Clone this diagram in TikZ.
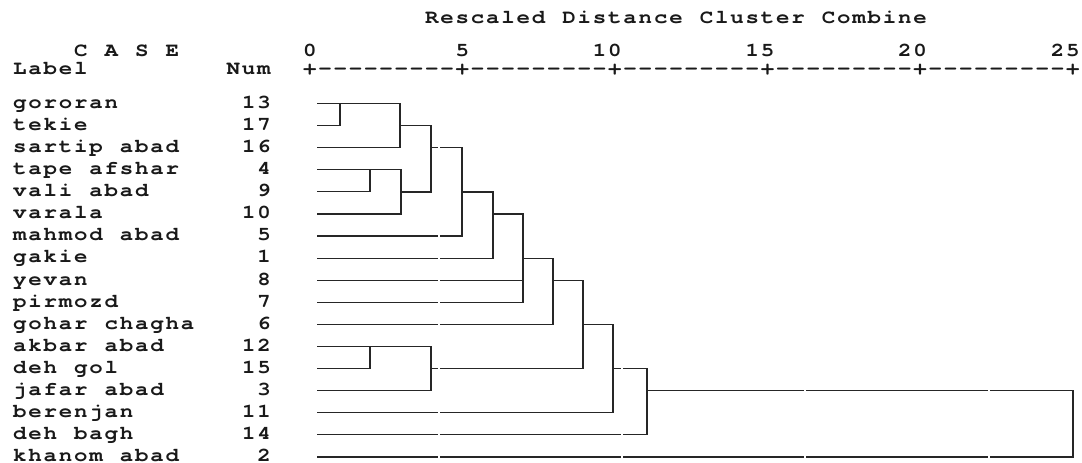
\documentclass[tikz,border=0pt]{standalone}
\usepackage{fontspec}
\newfontfamily\spss[FakeStretch=1.15]{texgyrecursor-bold.otf}
\ExplSyntaxOn
\NewDocumentCommand\mono{m}{\exp_args:Ne \str_map_inline:nn {#1}{\makebox[15.26pt]{##1}}}
\ExplSyntaxOff
\begin{document}
\begin{tikzpicture}[x=1pt,y=-1pt,
  txt/.style={anchor=base west,inner sep=0pt,font=\spss\fontsize{19.5}{19.5}\selectfont,text=black!90},
  link/.style={draw=black!85,line width=1.2pt,line cap=rect},
  gap/.style={draw=white,line width=1.5pt}]
\useasboundingbox (0,0) rectangle (1082,463);
\def\cx#1{12+15.26*#1}
% header
\node[txt] (title) at ({\cx{27}},23.5) {\mono{Rescaled Distance Cluster Combine}};
\node[txt] (case) at ({\cx{4}},56.5) {\mono{C A S E}};
\node[txt] (t0) at ({\cx{19}},56.5) {\mono{0}};
\node[txt] (t5) at ({\cx{29}},56.5) {\mono{5}};
\node[txt] (t10) at ({\cx{38}},56.5) {\mono{10}};
\node[txt] (t15) at ({\cx{48}},56.5) {\mono{15}};
\node[txt] (t20) at ({\cx{58}},56.5) {\mono{20}};
\node[txt] (t25) at ({\cx{68}},56.5) {\mono{25}};
\node[txt] (lab) at ({\cx{0}},74) {\mono{Label}};
\node[txt] (num) at ({\cx{14}},74) {\mono{Num}};
\node[txt] (axis) at ({\cx{19}},74) {\mono{+---------+---------+---------+---------+---------+}};
% rows
\foreach \i/\name/\n/\c in {0/gororan/13/15,1/tekie/17/15,2/sartip abad/16/15,3/tape afshar/4/16,
  4/vali abad/9/16,5/varala/10/15,6/mahmod abad/5/16,7/gakie/1/16,8/yevan/8/16,9/pirmozd/7/16,
  10/gohar chagha/6/16,11/akbar abad/12/15,12/deh gol/15/15,13/jafar abad/3/16,14/berenjan/11/15,
  15/deh bagh/14/15,16/khanom abad/2/16}{
  \pgfmathsetmacro{\ry}{103.5+22.09*\i}
  \node[txt] (name\i) at ({\cx{0}},\ry+4.8) {\mono{\name}};
  \node[txt] (num\i) at ({\cx{\c}},\ry+4.8) {\mono{\n}};
  \coordinate (l\i) at (318,\ry);
}
% merge points (x of merge, y of outgoing row)
\coordinate (m1) at (340,103.5);
\coordinate (m2) at (400,125.6);
\coordinate (m3) at (370,169.8);
\coordinate (m4) at (401,191.9);
\coordinate (m5) at (431,147.7);
\coordinate (m6) at (462,191.9);
\coordinate (m7) at (493,214);
\coordinate (m8) at (523,258.1);
\coordinate (m9) at (553,280.2);
\coordinate (m10) at (370,346.5);
\coordinate (m11) at (431,368.6);
\coordinate (m12) at (583,324.4);
\coordinate (m13) at (613,368.6);
\coordinate (m14) at (647,390.7);
\coordinate (m15) at (1073,390.7);
% links
\draw[link] (l0) -| (m1 |- l1) -- (l1);
\draw[link] (m1) -| (m2 |- l2) -- (l2);
\draw[link] (l3) -| (m3 |- l4) -- (l4);
\draw[link] (m3) -| (m4 |- l5) -- (l5);
\draw[link] (m2) -| (m5 |- m4) -- (m4);
\draw[link] (m5) -| (m6 |- l6) -- (l6);
\draw[link] (m6) -| (m7 |- l7) -- (l7);
\draw[link] (m7) -| (m8 |- l9) -- (l9);
\draw[link] (l8) -- (m8 |- l8);
\draw[link] (m8) -| (m9 |- l10) -- (l10);
\draw[link] (l11) -| (m10 |- l12) -- (l12);
\draw[link] (m10) -| (m11 |- l13) -- (l13);
\draw[link] (m9) -| (m12 |- m11) -- (m11);
\draw[link] (m12) -| (m13 |- l14) -- (l14);
\draw[link] (m13) -| (m14 |- l15) -- (l15);
\draw[link] (m14) -| (m15 |- l16) -- (l16);
% small breaks in the horizontal rules
\foreach \gx in {439,622,805,989}{\draw[gap] (\gx,95) -- (\gx,462);}
\end{tikzpicture}
\end{document}
